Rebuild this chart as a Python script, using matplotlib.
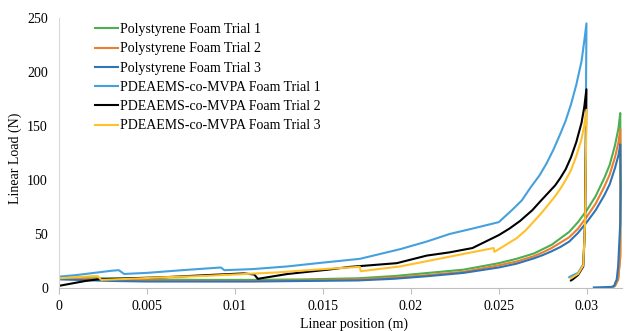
import matplotlib
matplotlib.use("Agg")
import matplotlib.pyplot as plt

plt.rcParams['font.family'] = ['Liberation Serif', 'DejaVu Serif']

labels = ["Polystyrene Foam Trial 1", "Polystyrene Foam Trial 2", "Polystyrene Foam Trial 3",
          "PDEAEMS-co-MVPA Foam Trial 1", "PDEAEMS-co-MVPA Foam Trial 2", "PDEAEMS-co-MVPA Foam Trial 3"]
colors = ["#4caf50", "#ed7d31", "#2e75b6", "#45a1dd", "#000000", "#ffc02a"]

ps1_x = [0, 0.001, 0.002, 0.003, 0.005, 0.008, 0.011, 0.014, 0.017, 0.019, 0.021, 0.023, 0.025, 0.026,
         0.027, 0.0275, 0.028, 0.0285, 0.029, 0.0295, 0.030, 0.0305, 0.031, 0.0313, 0.0316, 0.0318, 0.0319,
         0.03192, 0.0319, 0.03178, 0.0316, 0.0315]
ps1_y = [10, 9.5, 9, 9, 8, 7.5, 7.5, 8, 9, 11, 14, 17, 23, 27,
         32, 36, 40, 46, 52, 61, 72, 85, 102, 114, 132, 148, 162,
         100, 30, 8, 2, 1]

ps2_x = [0, 0.001, 0.002, 0.003, 0.005, 0.008, 0.011, 0.014, 0.017, 0.019, 0.021, 0.023, 0.025, 0.026,
         0.027, 0.0275, 0.028, 0.0285, 0.029, 0.0295, 0.030, 0.0305, 0.031, 0.0313, 0.0316, 0.0318, 0.0319,
         0.03192, 0.0319, 0.03178, 0.0316, 0.0315]
ps2_y = [9, 8.5, 8, 8, 7, 6.5, 6.5, 7, 8, 9.5, 12, 15, 21, 24.5,
         29.5, 33, 37, 42, 47, 55, 66, 78, 94, 105, 121, 135, 147,
         90, 28, 8, 2, 1]

ps3_x = [0, 0.001, 0.002, 0.003, 0.005, 0.008, 0.011, 0.014, 0.017, 0.019, 0.021, 0.023, 0.025, 0.026,
         0.027, 0.0275, 0.028, 0.0285, 0.029, 0.0295, 0.030, 0.0305, 0.031, 0.0313, 0.0316, 0.0318, 0.0319,
         0.03192, 0.0319, 0.03178, 0.0317, 0.03155, 0.0314, 0.0304]
ps3_y = [8, 7.5, 7, 6.5, 6, 6, 6, 6.5, 7, 8.5, 11, 14, 19, 22.5,
         27.5, 30.5, 34, 38, 43, 51, 61, 72, 86, 96, 111, 123, 133,
         90, 60, 20, 8, 2, 1, 0.5]

pd1_x = [0, 0.001, 0.002, 0.003, 0.0034, 0.0037, 0.005, 0.007, 0.0092, 0.0094, 0.011, 0.013, 0.0147, 0.0171,
         0.0194, 0.0209, 0.0222, 0.0235, 0.025, 0.0258, 0.0263, 0.0268, 0.0273, 0.0277, 0.0281, 0.0285,
         0.0288, 0.0291, 0.0294, 0.0297, 0.02985, 0.02998,
         0.0299, 0.0298, 0.0295, 0.0291, 0.0290]
pd1_y = [10.5, 12, 14, 16, 16.5, 13, 14, 16.5, 19, 16.5, 17.5, 20, 23, 27,
         36, 43, 50, 55, 61, 73, 81, 93, 104, 115, 128, 143,
         155, 170, 188, 210, 228, 245,
         60, 22, 14, 11, 10]

pd2_x = [0, 0.0005, 0.001, 0.0015, 0.0022, 0.004, 0.006, 0.0085, 0.0105, 0.0111, 0.0113, 0.013, 0.0153, 0.0165,
         0.0192, 0.0209, 0.0222, 0.0235, 0.025, 0.0256, 0.0262, 0.0269, 0.0274, 0.0278, 0.0282, 0.0285,
         0.0288, 0.0291, 0.0294, 0.0297, 0.02985, 0.02998,
         0.0299, 0.0298, 0.0295, 0.0292, 0.0291]
pd2_y = [2, 3.5, 5, 6.5, 8, 9, 10, 12, 13.5, 12.5, 8.5, 13, 17, 19.5,
         23, 30, 33, 37, 49, 55, 62, 72, 81, 88, 95, 102,
         110, 121, 135, 153, 167, 184,
         60, 20, 12, 8, 7]

pd3_x = [0, 0.001, 0.002, 0.0022, 0.0024, 0.004, 0.006, 0.008, 0.010, 0.0125, 0.0137, 0.0155, 0.0171, 0.01715,
         0.0194, 0.0222, 0.0247, 0.02475, 0.0255, 0.026, 0.0265, 0.0269, 0.0274, 0.0278, 0.0282, 0.0285,
         0.0288, 0.0291, 0.0294, 0.0297, 0.02985, 0.02998,
         0.0299, 0.0298, 0.0295, 0.0292, 0.0291]
pd3_y = [9, 10, 11, 11, 7.5, 8.5, 10, 11, 12.5, 14.5, 16, 18, 19.6, 15.5,
         20, 29, 37, 33.5, 41, 46, 53, 60, 69, 77, 85, 92,
         100, 109, 122, 138, 150, 165,
         60, 21, 13, 10, 9]

xticks = [0, 0.005, 0.01, 0.015, 0.02, 0.025, 0.03]
xtick_labels = ["0", "0.005", "0.01", "0.015", "0.02", "0.025", "0.03"]
yticks = [0, 50, 100, 150, 200, 250]

series_x = [ps1_x, ps2_x, ps3_x, pd1_x, pd2_x, pd3_x]
series_y = [ps1_y, ps2_y, ps3_y, pd1_y, pd2_y, pd3_y]

fig = plt.figure(figsize=(6.28, 3.31), dpi=100)
ax = fig.add_axes([59/628, 1-288/331, (622-59)/628, (288-18)/331])

for xs, ys, c, lab in zip(series_x, series_y, colors, labels):
    ax.plot(xs, ys, color=c, lw=1.5, label=lab)

ax.set_xlim(0, 0.032)
ax.set_ylim(0, 250)
ax.set_xticks(xticks)
ax.set_xticklabels(xtick_labels)
ax.set_yticks(yticks)
ax.tick_params(axis='x', length=4, color='#bfbfbf', labelsize=10, pad=5)
ax.tick_params(axis='y', length=0, labelsize=10, pad=8)
for s in ['top', 'right']:
    ax.spines[s].set_visible(False)
ax.spines['left'].set_color('#d9d9d9')
ax.spines['bottom'].set_color('#bfbfbf')

ax.set_xlabel("Linear position (m)", fontsize=10)
ax.xaxis.set_label_coords(0.524, -0.108)
ax.xaxis.label.set_verticalalignment('top')
ax.set_ylabel("Linear Load (N)", fontsize=10)
ax.yaxis.set_label_coords(-0.078, 0.481)
ax.yaxis.label.set_verticalalignment('center')

leg = ax.legend(loc='upper left', bbox_to_anchor=(0.064, 0.981), frameon=False, fontsize=10,
                handlelength=1.65, handletextpad=0.15, labelspacing=0.45, borderaxespad=0, borderpad=0)

fig.savefig("out.png", dpi=100)
